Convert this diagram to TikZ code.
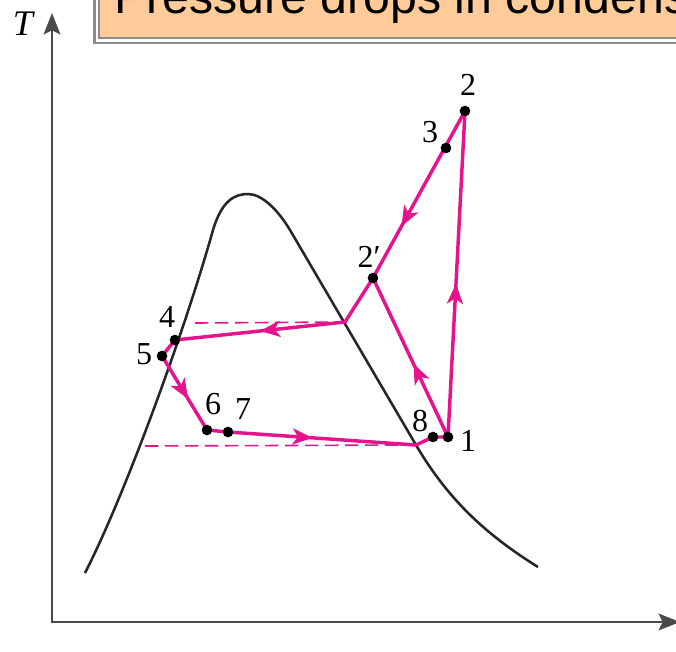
\documentclass[tikz,border=0pt]{standalone}
\usepackage{fontspec}
\setmainfont{Liberation Serif}
\newfontfamily\bannerfont{Liberation Sans}
\usetikzlibrary{arrows.meta,decorations.markings}
\definecolor{CyclePink}{RGB}{230,20,140}
\definecolor{BannerOrange}{HTML}{FFCC99}
\definecolor{BannerGray}{HTML}{8C8C8C}
\definecolor{AxisGray}{HTML}{4A4A4A}

\tikzset{
  cyclepath/.style={CyclePink, line width=2.6pt, line join=round},
  midarrow/.style={postaction={decorate, decoration={markings,
      mark=at position #1 with {\arrow{Stealth[length=15pt,width=12pt,inset=4pt]}}}}},
  satline/.style={CyclePink, line width=1.2pt, dash pattern=on 10pt off 5pt},
  domeline/.style={black!85, line width=1.9pt},
  axisline/.style={AxisGray, line width=1.9pt},
  statedot/.style={circle, fill=black, inner sep=0pt, minimum size=8pt},
  statelabel/.style={font=\fontsize{24}{24}\selectfont, inner sep=0pt},
}

\begin{document}
\begin{tikzpicture}[x=0.75pt, y=-0.75pt]
  \useasboundingbox (0,0) rectangle (676,651);

  % banner at the top
  \fill[BannerOrange] (100,-40) rectangle (720,37.5);
  \draw[BannerGray, line width=1.5pt] (99,-40) |- (720,38);
  \draw[BannerGray, line width=1.6pt] (94.5,-40) |- (720,43);
  \node[anchor=base west, inner sep=0pt, font=\bannerfont\fontsize{36.2}{36.2}\selectfont]
    (banner) at (114,13.5) {Pressure drops in condens};

  % axes
  \coordinate (origin) at (52,622);
  \coordinate (Ttip) at (52,13);
  \coordinate (stip) at (680,622);
  \draw[axisline, {Stealth[length=16pt,width=12.5pt,inset=3pt]}-{Stealth[length=16pt,width=12.5pt,inset=3pt]}]
    (Ttip) -- (origin) -- (stip);
  \node[font=\fontsize{27}{27}\selectfont\itshape] (Tlabel) at (23,24) {T};
  \node[font=\fontsize{27}{27}\selectfont\itshape] (slabel) at (684,644) {s};

  % saturation dome
  \draw[domeline] (85,573) .. controls (125,495) and (185,330) .. (213,230)
    .. controls (222,200) and (235,194) .. (248,194)
    .. controls (262,194) and (278,210) .. (290,230)
    -- (416,445) .. controls (450,503) and (490,537) .. (538,567);

  % states
  \coordinate (s1) at (448,437);
  \coordinate (s2) at (465,111);
  \coordinate (s3) at (446,148);
  \coordinate (s2p) at (373,278);
  \coordinate (s4) at (175,340);
  \coordinate (s5) at (162,356);
  \coordinate (s6) at (207,430);
  \coordinate (s7) at (228,432);
  \coordinate (s8) at (433,437);
  \coordinate (x2) at (345,322);
  \coordinate (x8) at (416,445);
  \coordinate (d4) at (195,323);
  \coordinate (d6) at (145,446);

  % dashed saturation lines
  \draw[satline] (d4) -- (x2);
  \draw[satline] (d6) -- (x8);

  % cycle
  \draw[cyclepath, midarrow=0.47] (s1) -- (s2);
  \draw[cyclepath, midarrow=0.69] (s2) -- (s2p);
  \draw[cyclepath] (s2p) -- (x2);
  \draw[cyclepath, midarrow=0.5] (x2) -- (s4);
  \draw[cyclepath] (s4) -- (s5);
  \draw[cyclepath, midarrow=0.58] (s5) -- (s6);
  \draw[cyclepath] (s6) -- (s7);
  \draw[cyclepath, midarrow=0.45] (s7) -- (x8);
  \draw[cyclepath] (x8) -- (s8) -- (s1);
  \draw[cyclepath, midarrow=0.46] (s1) -- (s2p);

  \node[statedot] (n1) at (s1) {};
  \node[statedot] (n2) at (s2) {};
  \node[statedot] (n3) at (s3) {};
  \node[statedot] (n2p) at (s2p) {};
  \node[statedot] (n4) at (s4) {};
  \node[statedot] (n5) at (s5) {};
  \node[statedot] (n6) at (s6) {};
  \node[statedot] (n7) at (s7) {};
  \node[statedot] (n8) at (s8) {};

  \node[statelabel] (l1) at (468,441) {1};
  \node[statelabel] (l2) at (468,85) {2};
  \node[statelabel] (l3) at (430,132) {3};
  \node[statelabel] (l2p) at (369,257) {2′};
  \node[statelabel] (l4) at (167,317) {4};
  \node[statelabel] (l5) at (144,354) {5};
  \node[statelabel] (l6) at (213,404) {6};
  \node[statelabel] (l7) at (243,409) {7};
  \node[statelabel] (l8) at (420,421) {8};
\end{tikzpicture}
\end{document}
